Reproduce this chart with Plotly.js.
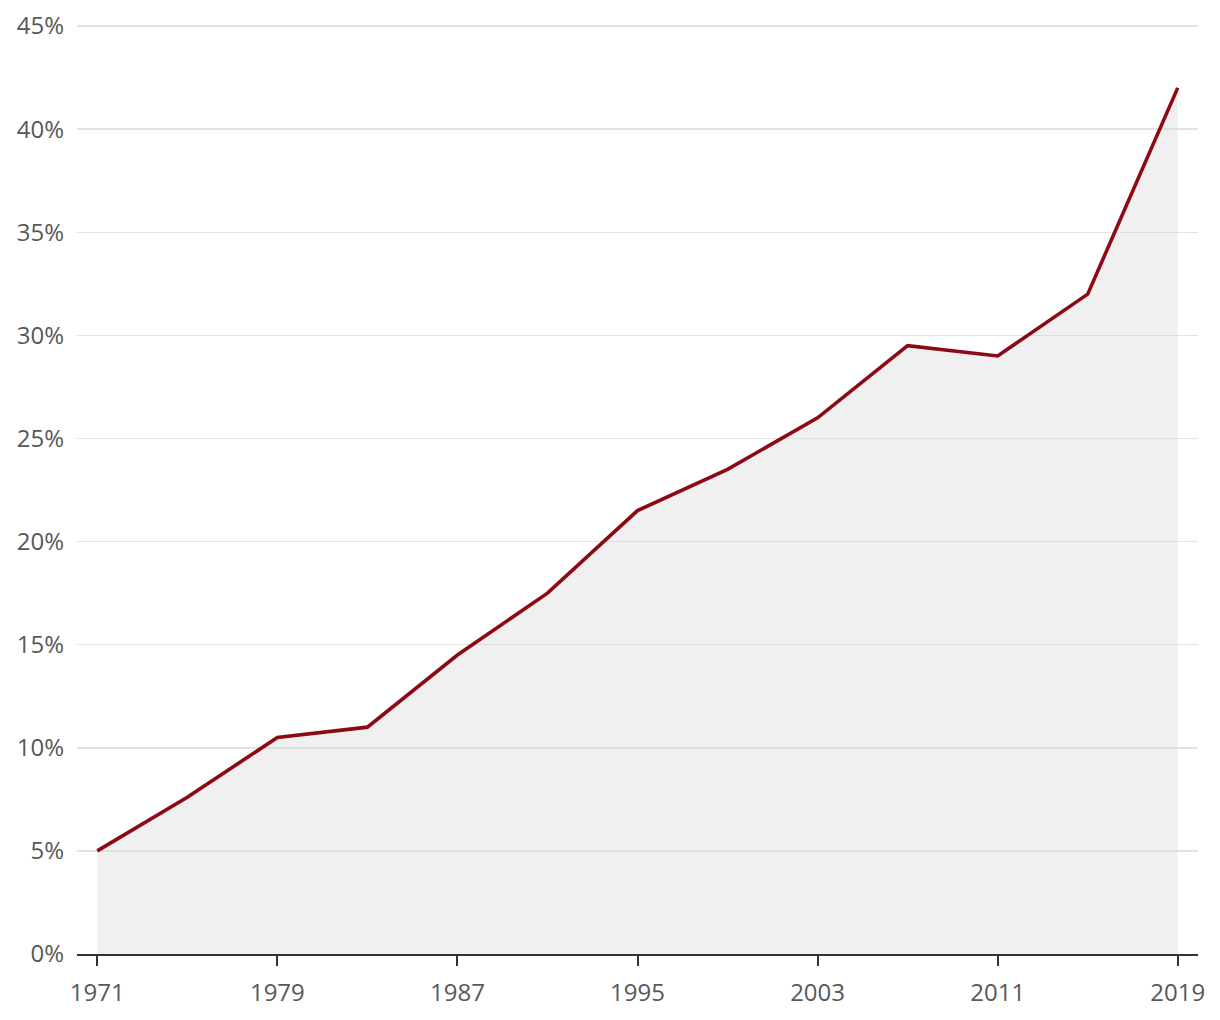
<!DOCTYPE html>
<html>
<head>
<meta charset="utf-8">
<script src="https://cdn.plot.ly/plotly-3.0.1.min.js"></script>
<style>html,body{margin:0;padding:0;background:#fff;}#chart{width:1220px;height:1020px;}</style>
</head>
<body>
<div id="chart"></div>
<script>
const years = [1971, 1975, 1979, 1983, 1987, 1991, 1995, 1999, 2003, 2007, 2011, 2015, 2019];
const shares = [5.0, 7.6, 10.5, 11.0, 14.5, 17.5, 21.5, 23.5, 26.0, 29.5, 29.0, 32.0, 42.0];
const xTicks = [1971, 1979, 1987, 1995, 2003, 2011, 2019];
const yTicks = [0, 5, 10, 15, 20, 25, 30, 35, 40, 45];

const trace = {
  x: years,
  y: shares,
  type: 'scatter',
  mode: 'lines',
  fill: 'tozeroy',
  fillcolor: 'rgba(215,215,215,0.38)',
  line: {color: '#8c0a16', width: 3.6},
  hoverinfo: 'skip'
};

const layout = {
  width: 1220,
  height: 1020,
  margin: {l: 77, r: 22, t: 25, b: 66},
  paper_bgcolor: '#ffffff',
  plot_bgcolor: '#ffffff',
  showlegend: false,
  font: {family: '"Open Sans", sans-serif', size: 24, color: '#585858', weight: 400},
  xaxis: {
    range: [1970.1, 2019.9],
    tickvals: xTicks,
    ticktext: xTicks.map(String),
    showgrid: false,
    zeroline: false,
    showline: true,
    linecolor: '#333333',
    linewidth: 2,
    ticks: 'outside',
    ticklen: 10,
    tickwidth: 2,
    tickcolor: '#333333',
    ticklabelstandoff: 6,
    fixedrange: true
  },
  yaxis: {
    range: [0, 45.05],
    tickvals: yTicks,
    ticktext: yTicks.map(v => v + '%'),
    showgrid: true,
    gridcolor: '#e3e3e3',
    gridwidth: 1.5,
    zeroline: false,
    showline: false,
    ticks: '',
    ticklabelstandoff: 12,
    fixedrange: true
  }
};

Plotly.newPlot('chart', [trace], layout, {displayModeBar: false, staticPlot: true});
</script>
</body>
</html>
